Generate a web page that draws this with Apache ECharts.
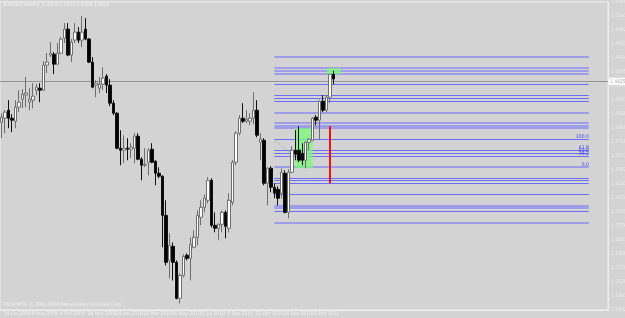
<!DOCTYPE html>
<html>
<head>
<meta charset="utf-8">
<script src="https://cdn.jsdelivr.net/npm/echarts@6/dist/echarts.min.js"></script>
<style>
  html, body { margin: 0; padding: 0; background: #d3d3d3; }
  #chart { width: 625px; height: 318px; }
</style>
</head>
<body>
<div id="chart"></div>
<script>
// EURUSD weekly, one bar per week starting 14 Jun 2009
const tickLabels = ['14 Jun 2009', '9 Aug 2009', '4 Oct 2009', '29 Nov 2009', '24 Jan 2010', '21 Mar 2010',
  '16 May 2010', '11 Jul 2010', '5 Sep 2010', '31 Oct 2010', '26 Dec 2010', '20 Feb 2011']

const opens = [1.3935, 1.3980, 1.4071, 1.3980, 1.3946, 1.4105, 1.4196, 1.4242, 1.4162, 1.4185,
  1.4299, 1.4321, 1.4299, 1.4583, 1.4697, 1.4708, 1.4594, 1.4719, 1.4890, 1.4992,
  1.4697, 1.4867, 1.4958, 1.4867, 1.4992, 1.4879, 1.4617, 1.4356, 1.4321, 1.4367,
  1.4458, 1.4356, 1.4151, 1.4037, 1.3639, 1.3617, 1.3639, 1.3628, 1.3639, 1.3776,
  1.3514, 1.3446, 1.3480, 1.3628, 1.3491, 1.3355, 1.3321, 1.2877, 1.2366, 1.2525,
  1.2343, 1.1934, 1.2195, 1.2423, 1.2389, 1.2514, 1.2627, 1.2855, 1.2968, 1.3048,
  1.3275, 1.2764, 1.2730, 1.2775, 1.2911, 1.2730, 1.3025, 1.3480, 1.3810, 1.3980,
  1.3946, 1.3946, 1.3980, 1.4071, 1.3707, 1.3730, 1.3241, 1.3412, 1.3196, 1.3173,
  1.3128, 1.3355, 1.2911, 1.3366, 1.3617, 1.3617, 1.3582, 1.3503, 1.3707, 1.3730,
  1.3992, 1.3958, 1.4174, 1.4071, 1.4219, 1.4479]
const closes = [1.3992, 1.4049, 1.3980, 1.3958, 1.4105, 1.4162, 1.4253, 1.4265, 1.4196, 1.4231,
  1.4333, 1.4299, 1.4583, 1.4617, 1.4719, 1.4594, 1.4719, 1.4879, 1.4992, 1.4697,
  1.4844, 1.4958, 1.4867, 1.4958, 1.4879, 1.4617, 1.4333, 1.4378, 1.4367, 1.4435,
  1.4356, 1.4151, 1.4037, 1.3639, 1.3617, 1.3639, 1.3628, 1.3651, 1.3776, 1.3514,
  1.3446, 1.3457, 1.3617, 1.3480, 1.3355, 1.3321, 1.2877, 1.2343, 1.2536, 1.2343,
  1.1934, 1.2195, 1.2411, 1.2389, 1.2548, 1.2627, 1.2877, 1.2968, 1.3071, 1.3275,
  1.2764, 1.2730, 1.2775, 1.2911, 1.2752, 1.3048, 1.3480, 1.3810, 1.3980, 1.3946,
  1.3969, 1.3980, 1.4071, 1.3787, 1.3742, 1.3241, 1.3412, 1.3196, 1.3128, 1.3071,
  1.3366, 1.2911, 1.3366, 1.3617, 1.3571, 1.3503, 1.3503, 1.3707, 1.3742, 1.3980,
  1.3958, 1.4174, 1.4071, 1.4219, 1.4479, 1.4425]
const lows = [1.3753, 1.3810, 1.3867, 1.3821, 1.3867, 1.4049, 1.4094, 1.4105, 1.4071, 1.4094,
  1.4242, 1.4162, 1.4287, 1.4492, 1.4674, 1.4481, 1.4583, 1.4708, 1.4833, 1.4685,
  1.4617, 1.4833, 1.4833, 1.4788, 1.4867, 1.4606, 1.4321, 1.4219, 1.4265, 1.4299,
  1.4265, 1.4117, 1.4015, 1.3628, 1.3446, 1.3469, 1.3503, 1.3526, 1.3469, 1.3503,
  1.3275, 1.3423, 1.3332, 1.3469, 1.3219, 1.3298, 1.2514, 1.2309, 1.2161, 1.2138,
  1.1922, 1.1877, 1.2173, 1.2366, 1.2138, 1.2502, 1.2536, 1.2764, 1.2911, 1.3014,
  1.2741, 1.2684, 1.2593, 1.2684, 1.2616, 1.2684, 1.2991, 1.3446, 1.3787, 1.3924,
  1.3924, 1.3901, 1.3912, 1.3764, 1.3503, 1.3219, 1.2991, 1.3139, 1.3071, 1.2991,
  1.3071, 1.2900, 1.2843, 1.3355, 1.3503, 1.3480, 1.3446, 1.3412, 1.3617, 1.3719,
  1.3901, 1.3742, 1.4049, 1.4049, 1.4151, 1.4364]
const highs = [1.4037, 1.4071, 1.4185, 1.4026, 1.4185, 1.4299, 1.4310, 1.4447, 1.4321, 1.4378,
  1.4367, 1.4378, 1.4628, 1.4719, 1.4844, 1.4731, 1.4833, 1.4901, 1.5060, 1.5060,
  1.4879, 1.5060, 1.5015, 1.5140, 1.5117, 1.4890, 1.4674, 1.4412, 1.4447, 1.4560,
  1.4481, 1.4424, 1.4185, 1.4049, 1.3844, 1.3787, 1.3753, 1.3696, 1.3810, 1.3810,
  1.3537, 1.3639, 1.3639, 1.3696, 1.3503, 1.3423, 1.3332, 1.3048, 1.2673, 1.2570,
  1.2366, 1.2218, 1.2434, 1.2445, 1.2627, 1.2707, 1.2934, 1.3048, 1.3116, 1.3310,
  1.3298, 1.2911, 1.2787, 1.2934, 1.2934, 1.3128, 1.3503, 1.3833, 1.4015, 1.4151,
  1.4071, 1.4037, 1.4276, 1.4185, 1.3810, 1.3753, 1.3423, 1.3435, 1.3241, 1.3207,
  1.3412, 1.3389, 1.3400, 1.3662, 1.3844, 1.3889, 1.3696, 1.3719, 1.3753, 1.3992,
  1.4015, 1.4185, 1.4242, 1.4242, 1.4481, 1.4518]

// horizontal levels drawn on the chart (price, dark or light blue)
const darkLevels = [1.4364, 1.4238, 1.4204, 1.4174, 1.3738, 1.3613, 1.3582, 1.3552, 1.3302, 1.3272, 1.3241, 1.3113, 1.2923]
const lightLevels = [1.4677, 1.4552, 1.4518, 1.4484, 1.4045, 1.3927, 1.3897, 1.3867, 1.3427, 1.2991, 1.2960, 1.2798]
const fiboLevels = [1.3738, 1.3613, 1.3582, 1.3552, 1.3427]
const fiboNames = ['100.0', '61.8', '50.0', '38.2', '0.0']
const levelStart = 78
const levelEnd = 168
const bidPrice = 1.4425
const greenBoxes = [[93, 1.4549, 97, 1.4481], [84, 1.3867, 89, 1.3412]]
const redSegment = [94, 1.3889, 1.3241]
const trendPoints = [[78, 1.3738], [87, 1.3427]]

const smallFont = '"Liberation Sans Narrow", "DejaVu Sans Condensed", "Liberation Sans", sans-serif'
const slots = 174
const categories = Array.from({length: slots}, (_, i) => i)
const candles = opens.map((o, i) => [o, closes[i], lows[i], highs[i]])

function levelLine(p, style) {
  const fi = fiboLevels.indexOf(p)
  return [
    {
      coord: [levelStart, p], lineStyle: style,
      label: fi >= 0
        ? {show: true, formatter: fiboNames[fi], position: 'insideEndTop', color: '#3c3cf0', fontSize: 5, fontFamily: smallFont, distance: 0}
        : {show: false}
    },
    {coord: [levelEnd, p]}
  ]
}

const lineData = []
darkLevels.forEach(p => lineData.push(levelLine(p, {color: '#6c6cff', width: 1, type: 'solid', opacity: 1})))
lightLevels.forEach(p => lineData.push(levelLine(p, {color: '#9d9de8', width: 2, type: 'solid', opacity: 1})))
lineData.push([
  {coord: [redSegment[0], redSegment[1]], lineStyle: {color: '#f01010', width: 2, type: 'solid'}, label: {show: false}},
  {coord: [redSegment[0], redSegment[2]]}
])
lineData.push([
  {coord: trendPoints[0], lineStyle: {color: '#8a8a8a', width: 1, type: [1, 2]}, label: {show: false}},
  {coord: trendPoints[1]}
])
lineData.push({
  yAxis: bidPrice, lineStyle: {color: '#959595', width: 1, type: 'solid'},
  label: {
    show: true, position: 'end', formatter: bidPrice.toFixed(4), backgroundColor: '#ffffff',
    color: '#a8a8a8', fontSize: 5, fontFamily: smallFont, padding: [1, 1], distance: 1
  }
})

const areaData = greenBoxes.map(b => [{coord: [b[0], b[1]]}, {coord: [b[2], b[3]]}])

const chart = echarts.init(document.getElementById('chart'))
chart.setOption({
  animation: false,
  backgroundColor: '#d3d3d3',
  textStyle: {fontFamily: smallFont},
  grid: {
    left: 0, right: 17, top: 2, bottom: 8,
    containLabel: false, outerBoundsMode: 'none',
    show: true, borderColor: '#efefef', borderWidth: 1
  },
  xAxis: {
    type: 'category',
    data: categories,
    boundaryGap: true,
    axisLine: {lineStyle: {color: '#efefef'}},
    axisTick: {
      alignWithLabel: true, length: 3, lineStyle: {color: '#efefef'},
      interval: (idx) => idx % 8 === 0 && idx / 8 < tickLabels.length
    },
    axisLabel: {
      interval: 0, align: 'left', margin: 1, fontSize: 5, fontFamily: smallFont, color: '#f0f0f0', padding: [0, 0, 0, 2],
      formatter: (v, idx) => (idx % 8 === 0 && idx / 8 < tickLabels.length) ? tickLabels[idx / 8] : ''
    },
    splitLine: {show: false}
  },
  yAxis: {
    type: 'value',
    position: 'right',
    min: 1.1802,
    max: 1.5300,
    interval: 0.0159,
    axisLine: {show: true, lineStyle: {color: '#efefef'}},
    axisTick: {show: false},
    splitLine: {show: false},
    axisLabel: {fontSize: 5, fontFamily: smallFont, color: '#ececec', margin: 3, formatter: v => v.toFixed(4)}
  },
  series: [{
    type: 'candlestick',
    data: candles,
    barWidth: 3,
    z: 3,
    itemStyle: {color: '#ffffff', color0: '#000000', borderColor: '#6e6e6e', borderColor0: '#111111', borderWidth: 1},
    markLine: {silent: true, z: 1, symbol: ['none', 'none'], data: lineData},
    markArea: {silent: true, z: 2, itemStyle: {color: 'rgba(120, 250, 120, 0.75)'}, data: areaData}
  }],
  graphic: [
    {type: 'text', left: 3, top: 2, style: {text: 'EURUSD,Weekly  1.4479 1.4518 1.4364 1.4425', fontSize: 5, fill: '#f2f2f2', fontFamily: smallFont}},
    {type: 'text', left: 3, top: 302, style: {text: 'FXCM MT4, © 2001-2009 MetaQuotes Software Corp.', fontSize: 5, fill: '#f2f2f2', fontFamily: smallFont}}
  ]
})
</script>
</body>
</html>
